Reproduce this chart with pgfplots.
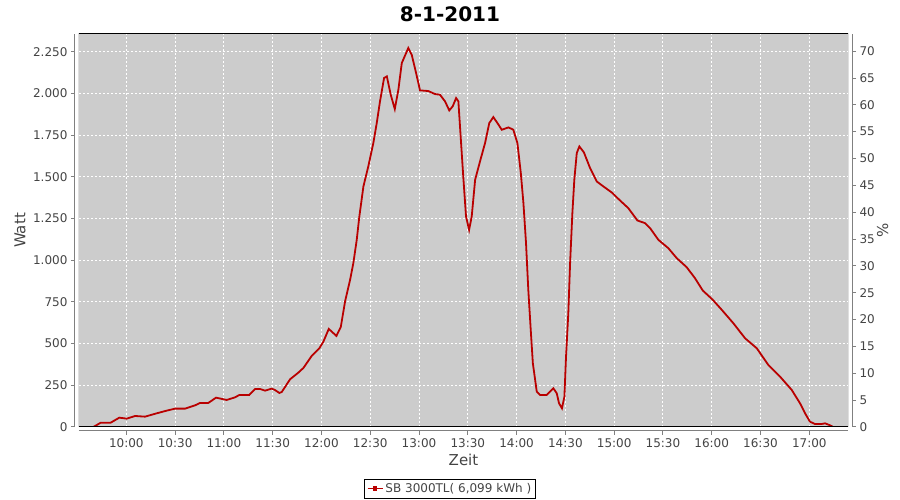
\documentclass[border=0pt]{standalone}
\usepackage{fontspec}
\setmainfont{DejaVu Sans}
\usepackage{pgfplots}
\pgfplotsset{compat=1.18}
\definecolor{plotbg}{RGB}{204,204,204}
\definecolor{linered}{RGB}{185,0,0}
\definecolor{ticktext}{RGB}{68,68,68}
\definecolor{axisgray}{RGB}{128,128,128}
\pgfplotstableread{
t w
579.7 0
584.3 26
590.4 26
595.7 56
600.2 50
605.4 66
611.5 62
618.7 82
624.8 98
630.0 110
636.1 110
642.3 130
645.3 144
650.4 144
655.2 176
661.7 162
666.9 178
669.5 192
675.6 192
679.2 228
682.2 228
685.3 218
689.4 230
691.4 222
694.1 204
695.6 210
700.7 286
705.8 326
708.9 354
714.0 426
718.7 472
721.2 512
724.5 588
729.2 546
731.9 600
734.5 752
737.6 882
739.6 982
741.7 1122
743.3 1262
745.8 1442
748.8 1562
751.9 1702
754.0 1822
756.0 1952
758.5 2092
760.2 2102
762.6 1992
765.1 1906
767.3 2022
769.4 2182
773.4 2272
775.5 2232
778.2 2122
780.6 2018
785.7 2014
789.8 1996
792.9 1992
796.0 1952
798.6 1898
800.7 1922
802.8 1972
804.2 1952
805.6 1742
807.2 1502
808.9 1262
810.8 1182
812.4 1262
814.5 1482
817.5 1592
820.6 1702
823.2 1822
825.7 1858
828.2 1822
830.9 1782
835.0 1796
838.0 1782
840.5 1702
842.6 1522
844.2 1342
845.8 1102
847.2 822
848.7 582
850.0 382
852.4 212
854.4 192
858.5 192
862.6 232
864.7 202
866.1 142
867.9 112
869.4 182
870.4 422
871.8 682
872.9 982
874.3 1282
875.5 1482
877.0 1642
878.6 1682
881.4 1646
885.2 1552
889.3 1472
893.4 1442
898.5 1406
903.6 1358
908.7 1312
914.3 1238
919.0 1222
922.1 1192
927.2 1122
933.3 1072
938.5 1012
944.6 958
949.7 892
954.5 818
960.5 764
966.2 702
973.3 622
980.5 532
987.7 472
994.8 372
1002.0 302
1009.2 222
1014.3 142
1017.4 82
1020.4 32
1023.5 18
1027.6 18
1029.7 22
1032.3 12
1034.4 2
}\powertable
\begin{document}
\begin{tikzpicture}
\useasboundingbox (0pt,0pt) rectangle (900pt,500pt);
\begin{axis}[
  at={(79pt,73pt)}, anchor=south west,
  scale only axis, width=769pt, height=393pt,
  xmin=570.9, xmax=1043.8, ymin=0, ymax=2356,
  axis x line*=bottom, axis y line*=left,
  axis x line shift=4pt, axis y line shift=4pt,
  axis line style={axisgray, line width=1pt, -},
  tick align=outside, major tick length=4pt,
  tick style={axisgray, line width=1pt},
  xtick={600,630,...,1020},
  xticklabels={10:00,10:30,11:00,11:30,12:00,12:30,13:00,13:30,14:00,14:30,15:00,15:30,16:00,16:30,17:00},
  ytick={0,250,...,2250},
  scaled y ticks=false,
  /pgf/number format/assume math mode=true,
  /pgf/number format/1000 sep={.},
  ticklabel style={font=\fontsize{12}{14}\selectfont, text=ticktext},
  grid=major,
  major grid style={white, line width=1pt, dash pattern=on 2pt off 2pt},
  axis background/.style={fill=plotbg},
  xlabel={Zeit}, ylabel={Watt},
  label style={font=\fontsize{15}{18}\selectfont, text=ticktext},
  xlabel style={at={(axis description cs:0.5,-0.084)}, anchor=center},
  ylabel style={at={(axis description cs:-0.0767,0.5)}, anchor=center},
  legend style={at={(axis description cs:0.4824,-0.1807)}, anchor=south, draw=black, fill=white,
    font=\fontsize{12}{14}\selectfont, text=ticktext, inner sep=2pt},
  legend image code/.code={\draw[linered, line width=1.8pt] (0pt,0pt) -- (15pt,0pt); \fill[linered] (6pt,-2pt) rectangle (9pt,2pt);},
]
\addplot[linered, line width=1.8pt] table[x=t, y=w] {\powertable};
\addlegendentry{SB 3000TL( 6,099 kWh )}
\draw[black, line width=1pt] (rel axis cs:0,0) rectangle (rel axis cs:1,1);
\end{axis}
\begin{axis}[
  at={(79pt,73pt)}, anchor=south west,
  scale only axis, width=769pt, height=393pt,
  xmin=570.9, xmax=1043.8, ymin=0, ymax=73.2,
  axis x line=none, axis y line*=right, axis y line shift=4pt,
  axis line style={axisgray, line width=1pt, -},
  tick align=outside, major tick length=4pt,
  tick style={axisgray, line width=1pt},
  ytick={0,5,...,70},
  /pgf/number format/assume math mode=true,
  ticklabel style={font=\fontsize{12}{14}\selectfont, text=ticktext},
  ylabel={\%},
  label style={font=\fontsize{15}{18}\selectfont, text=ticktext},
  ylabel style={at={(axis description cs:1.045,0.5)}, anchor=center, rotate=0},
]
\end{axis}
\node[font=\bfseries\fontsize{20}{24}\selectfont] at (450pt,486pt) {8-1-2011};
\end{tikzpicture}
\end{document}
